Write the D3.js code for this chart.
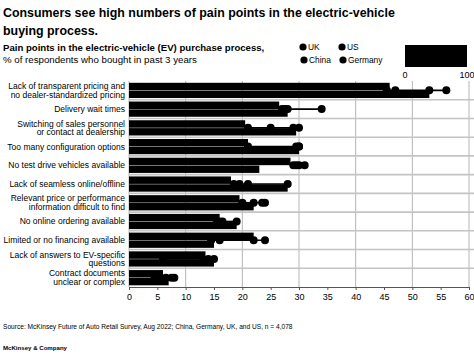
<!DOCTYPE html>
<html>
<head>
<meta charset="utf-8">
<script src="https://cdn.jsdelivr.net/npm/d3@7"></script>
<style>
  html, body { margin: 0; padding: 0; background: #fff; }
  svg { display: block; font-family: "Liberation Sans", Arial, sans-serif; }
</style>
</head>
<body>
<svg id="chart" width="474" height="356"></svg>
<script>
// ---- data ----
const categories = [
  ["Lack of transparent pricing and", "no dealer-standardized pricing"],
  ["Delivery wait times"],
  ["Switching of sales personnel", "or contact at dealership"],
  ["Too many configuration options"],
  ["No test drive vehicles available"],
  ["Lack of seamless online/offline"],
  ["Relevant price or performance", "information difficult to find"],
  ["No online ordering available"],
  ["Limited or no financing available"],
  ["Lack of answers to EV-specific", "questions"],
  ["Contract documents", "unclear or complex"]
];
const seriesNames = ["UK", "US", "China", "Germany"];
const ukValues      = [47, 27, 21, 21, 29, 18.5, 20, 15.5, 14.5, 6, 4.5];
const usValues      = [53, 28, 25, 29.5, 30, 19.5, 22, 16, 16, 13, 6.5];
const chinaValues   = [56, 34, 29, 30, 31, 28, 24, 19, 24, 15, 8];
const germanyValues = [45.5, 27.5, 30, 30, 29.5, 21, 23.5, 16.5, 22, 14, 7.5];
const upperBarValues = [46, 26.5, 20.5, 21, 28.5, 18, 19.5, 16, 22, 13.5, 6];
const lowerBarValues = [53, 28, 29.5, 30, 23, 28, 22, 19, 15, 15, 7];
const xTicks = [0, 5, 10, 15, 20, 25, 30, 35, 40, 45, 50, 55, 60];
const gridTicks = [0, 10, 20, 30, 40, 50, 60];
const scaleLabels = ["0", "100"];

const svg = d3.select("#chart");

// ---- titles ----
const title = svg.append("text").attr("x", 3).attr("font-weight", "bold").attr("font-size", 12.4).attr("fill", "#000");
title.append("tspan").attr("x", 3).attr("y", 17).text("Consumers see high numbers of pain points in the electric-vehicle");
title.append("tspan").attr("x", 3).attr("y", 34.5).text("buying process.");

svg.append("text").attr("x", 3).attr("y", 51).attr("font-weight", "bold").attr("font-size", 9.6)
  .text("Pain points in the electric-vehicle (EV) purchase process,");
svg.append("text").attr("x", 3).attr("y", 63).attr("font-size", 9.7)
  .text("% of respondents who bought in past 3 years");

// ---- legend ----
const legendPos = [[303, 50], [342, 50], [304, 63], [343, 63]];
const leg = svg.append("g");
seriesNames.forEach((s, i) => {
  const [lx, ly] = legendPos[i];
  leg.append("circle").attr("cx", lx).attr("cy", ly - 3).attr("r", 3.6).attr("fill", "#000");
  leg.append("text").attr("x", lx + 5).attr("y", ly).attr("font-size", 8.4).text(s);
});
// colour-scale legend
const scaleX = d3.scaleLinear().domain([0, 100]).range([405, 467]);
svg.append("rect").attr("x", scaleX(0)).attr("y", 45).attr("width", scaleX(100) - scaleX(0)).attr("height", 22).attr("fill", "#000");
scaleLabels.forEach(l => {
  svg.append("text").attr("x", scaleX(+l)).attr("y", 78).attr("text-anchor", "middle").attr("font-size", 9).text(l);
});

// ---- scales ----
const x = d3.scaleLinear().domain([0, 60]).range([129, 469]);
const y = d3.scaleBand().domain(d3.range(categories.length)).range([81, 287]).paddingInner(0).paddingOuter(0);
const bw = y.bandwidth();

// vertical gridlines
svg.append("g").selectAll("line").data(gridTicks).join("line")
  .attr("x1", d => x(d)).attr("x2", d => x(d))
  .attr("y1", 81).attr("y2", 287)
  .attr("stroke", "#b5b5b5").attr("stroke-width", 1);

// horizontal separators
svg.append("g").selectAll("line").data(d3.range(1, categories.length)).join("line")
  .attr("x1", x(0)).attr("x2", 474)
  .attr("y1", d => y(d)).attr("y2", d => y(d))
  .attr("stroke", "#c4c4c4").attr("stroke-width", 1.6);

// bars
const bars = svg.append("g");
bars.selectAll("rect.up").data(upperBarValues).join("rect").attr("class", "up")
  .attr("x", x(0)).attr("y", (d, i) => y(i) + 1.8)
  .attr("width", d => x(d) - x(0)).attr("height", bw / 2 - 1.9)
  .attr("fill", "#000");
bars.selectAll("rect.lo").data(lowerBarValues).join("rect").attr("class", "lo")
  .attr("x", x(0)).attr("y", (d, i) => y(i) + bw / 2 + 0.3)
  .attr("width", d => x(d) - x(0)).attr("height", bw / 2 - 2.0)
  .attr("fill", "#000");

// dumbbells
const rows = categories.map((c, i) => [ukValues[i], usValues[i], chinaValues[i], germanyValues[i]]);
const db = svg.append("g");
db.selectAll("line").data(rows).join("line")
  .attr("x1", d => x(d3.min(d))).attr("x2", d => x(d3.max(d)))
  .attr("y1", (d, i) => y(i) + bw / 2).attr("y2", (d, i) => y(i) + bw / 2)
  .attr("stroke", "#000").attr("stroke-width", 1.6);
rows.forEach((vals, i) => {
  db.selectAll(null).data(vals).join("circle")
    .attr("cx", d => x(d)).attr("cy", y(i) + bw / 2).attr("r", 4)
    .attr("fill", "#000");
});

// category labels
const lab = svg.append("g");
categories.forEach((lines, i) => {
  const cy = y(i) + bw / 2;
  const t = lab.append("text").attr("text-anchor", "end").attr("font-size", 8.5).attr("fill", "#000");
  const n = lines.length;
  lines.forEach((ln, j) => {
    t.append("tspan").attr("x", 125).attr("y", cy + 3 + (j - (n - 1) / 2) * 8.6).text(ln);
  });
});

// x axis
const ax = svg.append("g").attr("transform", "translate(0,287)")
  .call(d3.axisBottom(x).tickValues(xTicks).tickSize(3).tickPadding(4).tickFormat(d3.format("d")));
ax.select(".domain").attr("stroke", "#555");
ax.selectAll(".tick line").attr("stroke", "#555");
ax.selectAll("text").attr("font-size", 9).attr("font-family", "Liberation Sans, Arial, sans-serif").attr("fill", "#000");

// footer
svg.append("text").attr("x", 3).attr("y", 329).attr("font-size", 6.6)
  .text("Source: McKinsey Future of Auto Retail Survey, Aug 2022; China, Germany, UK, and US, n = 4,078");
svg.append("text").attr("x", 3).attr("y", 350).attr("font-size", 6.1).attr("font-weight", "bold")
  .text("McKinsey & Company");
</script>
</body>
</html>
